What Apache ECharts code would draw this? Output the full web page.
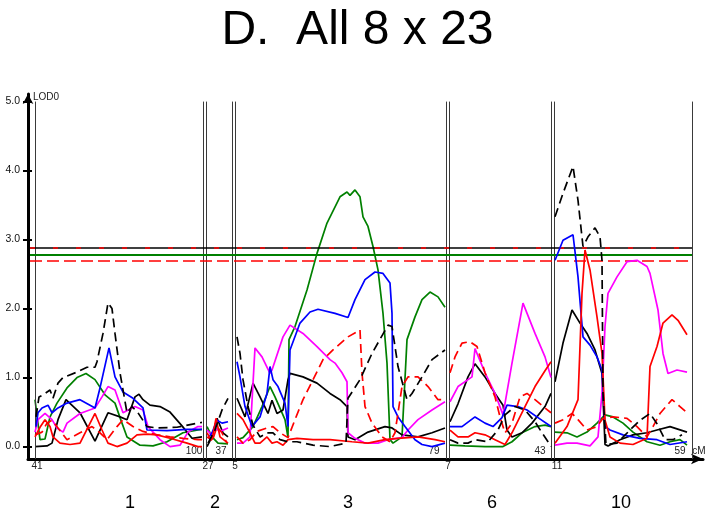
<!DOCTYPE html>
<html><head><meta charset="utf-8">
<script src="https://cdn.jsdelivr.net/npm/echarts@6/dist/echarts.min.js"></script>
<style>html,body{margin:0;padding:0;background:#fff}#c{width:715px;height:516px}</style>
</head><body><div id="c"></div>
<script>
// ---------- data ----------
const titleText = 'D.  All 8 x 23';
const chromNames = ['1', '2', '3', '6', '10'];
const chromNamePos = [130, 215, 348, 492, 621];
const chromStartCM = ['41', '27', '5', '7', '11'];
const chromStartPos = [37, 208, 235, 448, 557];
const chromEndCM = ['100', '37', '79', '43', '59'];
const chromEndPos = [194, 221, 434, 540, 680];
const dividerPos = [35, 203, 206, 232, 235, 446, 449, 551, 554, 692];
const yTicks = [0, 1, 2, 3, 4, 5];
const thresholdBlack = 2.88;
const thresholdGreen = 2.78;
const thresholdRed = 2.69;
const thresholdStart = 30, thresholdEnd = 692;

const blackDashed = [
 [[36,0.43],[39,0.72],[43,0.75],[50,0.82],[53,0.7],[58,0.92],[63,1.0],[77,1.08],[87,1.15],[95,1.15],[97,1.23],[103,1.64],[108,2.08],[112,2.0],[115,1.64],[120,1.07],[127,0.49],[132,0.58],[138,0.49],[147,0.29],[157,0.27],[177,0.28],[198,0.34],[202,0.35]],
 [[208,0.05],[215,0.24],[222,0.53],[228,0.7]],
 [[237,1.59],[240,1.35],[243,0.97],[248,0.58],[253,0.31],[260,0.14],[267,0.2],[273,0.2],[280,0.1],[288,0.07],[297,0.07],[313,0.02],[330,0.0],[346,0.05],[348,0.7],[360,0.97],[372,1.35],[388,1.76],[392,1.74],[398,1.16],[407,0.68],[412,0.77],[422,1.01],[432,1.26],[445,1.4]],
 [[450,0.1],[458,0.05],[468,0.05],[475,0.1],[488,0.07],[498,0.24],[505,0.46],[515,0.58],[525,0.53],[535,0.36],[542,0.2],[548,0.07],[551,0.0]],
 [[555,3.33],[563,3.67],[573,4.06],[578,3.57],[583,2.9],[588,3.04],[595,3.17],[600,3.04],[602,2.7],[603,0.77],[606,0.03],[617,0.05],[630,0.24],[640,0.38],[650,0.48],[657,0.33],[665,0.1],[673,0.1],[682,0.17]]
];
const blackSolid = [
 [[35,0.0],[47,0.01],[52,0.05],[58,0.39],[66,0.68],[80,0.49],[95,0.08],[108,0.49],[120,0.43],[127,0.39],[135,0.72],[139,0.76],[143,0.68],[150,0.6],[160,0.58],[170,0.5],[182,0.3],[192,0.12],[202,0.14]],
 [[207,0.0],[212,0.14],[217,0.41],[223,0.2],[228,0.14]],
 [[237,0.7],[245,0.43],[253,0.92],[260,0.72],[268,0.48],[272,0.67],[277,0.48],[283,0.53],[288,0.97],[290,1.06],[303,1.01],[317,0.92],[330,0.77],[340,0.68],[347,0.58],[348,0.14],[355,0.1],[368,0.21],[385,0.29],[392,0.27],[402,0.17],[418,0.14],[432,0.2],[445,0.27]],
 [[450,0.36],[458,0.62],[468,1.01],[475,1.2],[485,1.01],[495,0.77],[503,0.6],[507,0.24],[512,0.14],[522,0.2],[532,0.34],[545,0.58],[551,0.77]],
 [[555,0.94],[563,1.5],[572,1.98],[580,1.79],[587,1.64],[595,1.4],[602,1.06],[605,0.03],[608,0.01],[620,0.1],[633,0.17],[647,0.2],[657,0.24],[670,0.29],[687,0.21]]
];
const blue = [
 [[36,0.29],[38,0.49],[42,0.56],[48,0.6],[52,0.49],[58,0.56],[67,0.63],[80,0.68],[95,0.56],[100,0.85],[109,1.43],[115,1.01],[123,0.79],[133,0.7],[143,0.56],[147,0.24],[167,0.23],[187,0.25],[202,0.25]],
 [[208,0.12],[212,0.2],[217,0.38],[222,0.34],[228,0.36]],
 [[237,1.23],[240,1.01],[245,0.58],[252,0.29],[260,0.43],[267,0.77],[270,1.16],[273,0.97],[278,0.87],[285,0.63],[288,0.29],[290,1.4],[300,1.79],[310,1.95],[318,1.99],[335,1.93],[348,1.87],[355,2.13],[365,2.42],[375,2.53],[383,2.51],[390,2.37],[392,1.93],[393,0.58],[398,0.43],[405,0.29],[415,0.1],[422,0.03],[432,0.0],[445,0.05]],
 [[450,0.29],[462,0.29],[475,0.43],[485,0.34],[493,0.29],[502,0.42],[507,0.6],[518,0.58],[527,0.53],[538,0.42],[551,0.29]],
 [[555,2.7],[563,2.99],[573,3.07],[578,2.46],[583,1.59],[590,1.47],[597,1.3],[602,1.11],[605,0.29],[610,0.24],[623,0.17],[640,0.12],[657,0.1],[670,0.03],[687,0.07]]
];
const green = [
 [[35,0.68],[40,0.1],[45,0.11],[50,0.43],[57,0.63],[67,0.85],[77,1.0],[86,1.06],[95,0.97],[105,0.75],[115,0.63],[120,0.42],[127,0.14],[140,0.02],[153,0.01],[167,0.07],[183,0.2],[198,0.24],[202,0.25]],
 [[207,0.29],[212,0.14],[218,0.05],[228,0.04]],
 [[237,0.1],[243,0.13],[253,0.29],[262,0.58],[270,0.87],[275,0.72],[285,0.39],[288,0.13],[289,1.55],[295,1.74],[307,2.27],[317,2.8],[327,3.24],[340,3.62],[347,3.69],[350,3.64],[355,3.72],[360,3.62],[363,3.33],[368,3.19],[373,2.9],[378,2.56],[383,1.93],[387,1.21],[390,0.1],[393,0.05],[402,0.14],[407,1.55],[415,1.88],[422,2.13],[430,2.24],[438,2.17],[445,2.02]],
 [[450,0.02],[465,0.01],[485,0.0],[503,0.0],[512,0.07],[522,0.2],[535,0.29],[545,0.31],[551,0.29]],
 [[555,0.21],[567,0.2],[577,0.14],[587,0.21],[597,0.34],[605,0.46],[613,0.43],[623,0.34],[633,0.21],[647,0.07],[660,0.02],[670,0.07],[680,0.1],[687,0.02]]
];
const magenta = [
 [[35,0.21],[38,0.39],[45,0.48],[52,0.39],[57,0.27],[63,0.21],[67,0.34],[80,0.48],[95,0.56],[102,0.72],[108,0.87],[115,0.82],[123,0.49],[135,0.58],[143,0.53],[148,0.29],[160,0.1],[170,0.0],[180,0.02],[188,0.21],[198,0.29],[202,0.29]],
 [[207,0.24],[212,0.17],[215,0.27],[220,0.22],[228,0.27]],
 [[237,0.05],[243,0.05],[250,0.14],[255,1.43],[262,1.3],[270,1.06],[272,1.11],[283,1.59],[290,1.76],[303,1.64],[317,1.45],[330,1.26],[335,1.21],[342,1.07],[347,0.94],[348,0.2],[355,0.12],[365,0.05],[378,0.05],[388,0.1],[402,0.13],[408,0.24],[418,0.39],[432,0.53],[445,0.65]],
 [[450,0.65],[458,0.87],[472,1.01],[475,1.42],[485,1.07],[495,0.77],[503,0.46],[512,1.21],[523,2.08],[535,1.64],[545,1.3],[551,1.0]],
 [[555,0.02],[567,0.05],[577,0.05],[590,0.01],[598,0.14],[602,0.77],[605,1.74],[608,2.22],[617,2.46],[627,2.68],[637,2.7],[647,2.61],[650,2.51],[658,1.98],[663,1.35],[668,1.06],[677,1.11],[687,1.08]]
];
const redSolid = [
 [[35,0.14],[40,0.28],[45,0.39],[50,0.29],[53,0.14],[60,0.05],[70,0.03],[80,0.05],[95,0.48],[102,0.24],[108,0.05],[117,0.0],[127,0.05],[137,0.17],[147,0.18],[157,0.17],[170,0.12],[187,0.05],[198,0.0],[202,0.0]],
 [[207,0.14],[212,0.1],[216,0.41],[220,0.14],[228,0.05]],
 [[237,0.48],[243,0.39],[250,0.2],[255,0.05],[260,0.05],[267,0.14],[272,0.05],[277,0.07],[283,0.02],[288,0.1],[297,0.12],[313,0.1],[330,0.1],[352,0.07],[368,0.05],[385,0.1],[398,0.12],[418,0.14],[435,0.1],[445,0.07]],
 [[450,0.24],[458,0.14],[468,0.14],[475,0.2],[485,0.17],[495,0.1],[505,0.03],[512,0.2],[525,0.58],[535,0.87],[545,1.1],[551,1.23]],
 [[555,0.05],[567,0.29],[578,0.68],[582,2.22],[585,2.85],[590,2.56],[597,1.88],[602,1.35],[605,0.38],[610,0.14],[620,0.05],[633,0.03],[647,0.12],[650,1.16],[657,1.45],[663,1.79],[672,1.91],[678,1.83],[687,1.62]]
];
const redDashed = [
 [[35,0.17],[42,0.21],[47,0.34],[52,0.38],[58,0.27],[67,0.1],[80,0.2],[92,0.29],[100,0.2],[107,0.1],[117,0.29],[123,0.39],[133,0.29],[143,0.22],[157,0.17],[170,0.14],[183,0.12],[198,0.1],[202,0.1]],
 [[207,0.2],[212,0.07],[217,0.29],[222,0.2],[227,0.05]],
 [[237,0.14],[243,0.05],[250,0.1],[257,0.22],[267,0.27],[273,0.29],[280,0.2],[288,0.13],[295,0.39],[303,0.68],[313,0.97],[323,1.26],[333,1.4],[348,1.59],[360,1.69],[362,1.07],[365,0.58],[372,0.34],[382,0.14],[390,0.07],[395,0.2],[402,0.87],[408,1.01],[418,1.01],[428,0.87],[438,0.68],[445,0.68]],
 [[450,1.07],[455,1.3],[462,1.5],[470,1.52],[477,1.45],[485,1.07],[495,0.72],[500,0.43],[505,0.2],[512,0.34],[520,0.72],[527,0.77],[535,0.68],[545,0.56],[551,0.49]],
 [[555,0.34],[563,0.39],[572,0.48],[578,0.39],[587,0.24],[597,0.29],[603,0.41],[613,0.43],[627,0.41],[637,0.29],[647,0.14],[653,0.29],[660,0.48],[672,0.68],[680,0.58],[687,0.49]]
];

// ---------- chart ----------
const FONT = 'Liberation Sans, Arial, sans-serif';
const X_MIN = 28, X_MAX = 703, Y_MIN = -0.18, Y_MAX = 5.11;
const chart = echarts.init(document.getElementById('c'), null, {renderer: 'canvas'});

const traits = [
  {data: green, color: '#008000', type: 'solid'},
  {data: blackSolid, color: '#000000', type: 'solid'},
  {data: magenta, color: '#ff00ff', type: 'solid'},
  {data: blue, color: '#0000ff', type: 'solid'},
  {data: redSolid, color: '#ff0000', type: 'solid'},
  {data: redDashed, color: '#ff0000', type: [9, 5]},
  {data: blackDashed, color: '#000000', type: [9, 5]}
];

const series = [];
// dividers and thresholds
const markLines = [];
dividerPos.forEach(p => markLines.push([{coord: [p, Y_MIN], lineStyle: {color: '#3a3a3a', width: 1, type: 'solid'}}, {coord: [p, 5.0]}]));
markLines.push([{coord: [thresholdStart, thresholdBlack], lineStyle: {color: '#000', width: 1.6, type: 'solid'}}, {coord: [thresholdEnd, thresholdBlack]}]);
markLines.push([{coord: [thresholdStart, thresholdBlack], lineStyle: {color: '#ff0000', width: 1.6, type: [5, 18]}}, {coord: [thresholdEnd, thresholdBlack]}]);
markLines.push([{coord: [thresholdStart, thresholdGreen], lineStyle: {color: '#008000', width: 1.8, type: 'solid'}}, {coord: [thresholdEnd, thresholdGreen]}]);
markLines.push([{coord: [thresholdStart, thresholdRed], lineStyle: {color: '#ff0000', width: 1.6, type: [12, 5]}}, {coord: [thresholdEnd, thresholdRed]}]);
series.push({
  type: 'line', data: [], silent: true, animation: false, z: 1,
  markLine: {silent: true, symbol: ['none', 'none'], label: {show: false}, animation: false,
    lineStyle: {type: 'solid'}, data: markLines}
});

traits.forEach((t, ti) => {
  t.data.forEach(seg => {
    series.push({
      type: 'line', data: seg, showSymbol: false, symbol: 'none', silent: true,
      animation: false, z: 3 + ti, clip: false,
      lineStyle: {color: t.color, width: 1.7, type: t.type}
    });
  });
});

chart.setOption({
  animation: false,
  title: {
    text: titleText, left: 'center', top: 2,
    textStyle: {fontSize: 48, fontWeight: 'normal', color: '#000', fontFamily: FONT}
  },
  grid: {left: 28, right: 715 - X_MAX, top: 94, bottom: 57, containLabel: false},
  xAxis: {
    type: 'value', min: X_MIN, max: X_MAX,
    axisLine: {show: true, onZero: false, symbol: ['none', 'arrow'], symbolSize: [8, 12], lineStyle: {color: '#000', width: 3}},
    axisTick: {show: false}, axisLabel: {show: false}, splitLine: {show: false}
  },
  yAxis: [{
    type: 'value', min: Y_MIN, max: Y_MAX,
    axisLine: {show: true, onZero: false, symbol: ['none', 'arrow'], symbolSize: [8, 10], lineStyle: {color: '#000', width: 3}},
    axisTick: {show: true, customValues: yTicks, length: 5, lineStyle: {color: '#000', width: 2}},
    axisLabel: {show: true, customValues: yTicks, margin: 8, fontSize: 10.5, color: '#111', fontFamily: FONT,
      formatter: v => v.toFixed(1)},
    splitLine: {show: false}
  }, {
    type: 'value', min: Y_MIN, max: Y_MAX, position: 'left',
    axisLine: {show: false},
    axisTick: {show: true, inside: true, customValues: yTicks, length: 4, lineStyle: {color: '#000', width: 2}},
    axisLabel: {show: false}, splitLine: {show: false}
  }],
  series: series
});

// text annotations placed through the axis scales
const px = (x, y) => chart.convertToPixel({gridIndex: 0}, [x, y]);
const graphics = [];
const baseY = px(X_MIN, Y_MIN)[1];
chromStartCM.forEach((s, i) => {
  const p = px(chromStartPos[i], Y_MIN);
  graphics.push({type: 'text', x: p[0], y: baseY + 7, style: {text: s, fontSize: 10, fontFamily: FONT, fill: '#222', align: 'center', verticalAlign: 'middle'}});
});
chromEndCM.forEach((s, i) => {
  const p = px(chromEndPos[i], Y_MIN);
  graphics.push({type: 'text', x: p[0], y: baseY - 7.5, style: {text: s, fontSize: 10, fontFamily: FONT, fill: '#222', align: 'center', verticalAlign: 'middle'}});
});
chromNames.forEach((s, i) => {
  const p = px(chromNamePos[i], Y_MIN);
  graphics.push({type: 'text', x: p[0], y: 503, style: {text: s, fontSize: 18, fontFamily: FONT, fill: '#000', align: 'center', verticalAlign: 'middle'}});
});
const lodPos = px(X_MIN, Y_MAX);
graphics.push({type: 'text', x: lodPos[0] + 5, y: 97, style: {text: 'LOD0', fontSize: 10, fontFamily: FONT, fill: '#222', align: 'left', verticalAlign: 'middle'}});
const cmPos = px(X_MAX, Y_MIN);
graphics.push({type: 'text', x: cmPos[0] - 4, y: baseY - 7.5, style: {text: 'cM', fontSize: 10, fontFamily: FONT, fill: '#222', align: 'center', verticalAlign: 'middle'}});
chart.setOption({graphic: graphics});
</script>
</body></html>
